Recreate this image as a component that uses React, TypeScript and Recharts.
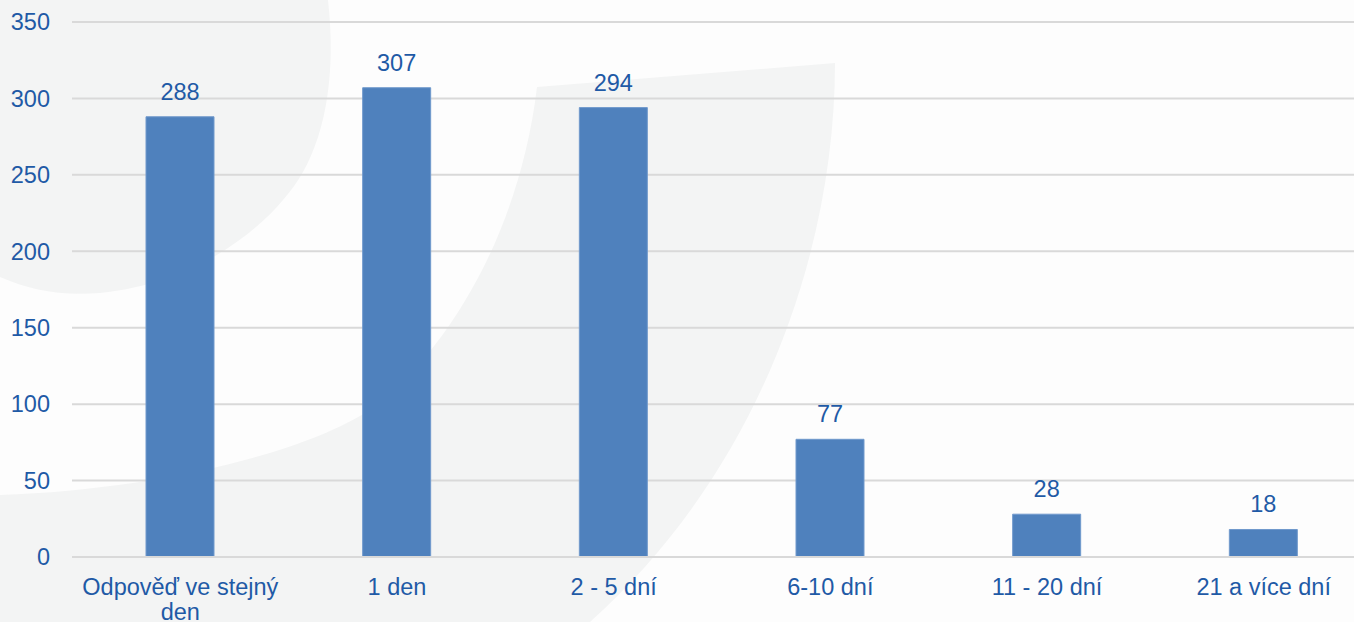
import { Bar, BarChart, CartesianGrid, LabelList, XAxis, YAxis } from "recharts";

const categories = [
  "Odpověď ve stejný den",
  "1 den",
  "2 - 5 dní",
  "6-10 dní",
  "11 - 20 dní",
  "21 a více dní",
];
const counts = [288, 307, 294, 77, 28, 18];
const yTicks = [0, 50, 100, 150, 200, 250, 300, 350];

const data = categories.map((name, i) => ({ name, value: counts[i] }));

const BLUE_TEXT = "#1F5AA6";
const FONT = "'Liberation Sans', Arial, sans-serif";

// break long labels into lines of at most ~18 chars
function wrap(label: string, max = 18) {
  const lines: string[] = [];
  let cur = "";
  for (const w of label.split(" ")) {
    const next = cur ? cur + " " + w : w;
    if (next.length > max && cur) {
      lines.push(cur);
      cur = w;
    } else cur = next;
  }
  if (cur) lines.push(cur);
  return lines;
}

function CategoryTick({ x, y, payload }: any) {
  const lines = wrap(String(payload.value));
  return (
    <text x={x} y={y} textAnchor="middle" fill={BLUE_TEXT} fontSize={23.5} fontFamily={FONT}>
      {lines.map((l, i) => (
        <tspan key={i} x={x} dy={i === 0 ? 17 : 25}>
          {l}
        </tspan>
      ))}
    </text>
  );
}

// faint watermark in the background
function Watermark() {
  return (
    <svg width={1354} height={622} style={{ position: "absolute", left: 0, top: 0 }}>
      <rect width={1354} height={622} fill="#fdfdfd" />
      <path
        d="M0 0 L328 0 C338 90 320 160 283 200 C245 245 180 285 100 293 C60 296 30 290 0 277 Z"
        fill="#f3f4f4"
      />
      <path
        d="M537 87 L835 63 C835 250 760 470 590 622 L0 622 L0 495 C150 490 300 455 370 410 C450 350 520 230 537 87 Z"
        fill="#f3f4f4"
      />
    </svg>
  );
}

export default function App() {
  return (
    <div style={{ position: "fixed", left: 0, top: 0, width: 1354, height: 622, overflow: "hidden" }}>
      <Watermark />
      <div style={{ position: "absolute", left: 0, top: 0 }}>
        <BarChart
          width={1380}
          height={622}
          data={data}
          margin={{ top: 22, right: 8, left: 0, bottom: 0 }}
          barSize={68}
        >
          <CartesianGrid vertical={false} stroke="#d9d9d9" strokeWidth={2} />
          <XAxis
            dataKey="name"
            height={65}
            tickLine={false}
            axisLine={{ stroke: "#d9d9d9", strokeWidth: 2 }}
            tickMargin={15}
            interval={0}
            tick={<CategoryTick />}
          />
          <YAxis
            width={72}
            domain={[0, 350]}
            ticks={yTicks}
            tickLine={false}
            axisLine={false}
            tickMargin={16}
            tick={{ fill: BLUE_TEXT, fontSize: 23.5, fontFamily: FONT }}
          />
          <Bar dataKey="value" fill="#4F81BD" stroke="#7099cc" strokeWidth={1} isAnimationActive={false}>
            <LabelList
              dataKey="value"
              position="top"
              offset={17}
              fill={BLUE_TEXT}
              style={{ fontSize: 23.5, fontFamily: FONT }}
            />
          </Bar>
        </BarChart>
      </div>
    </div>
  );
}
